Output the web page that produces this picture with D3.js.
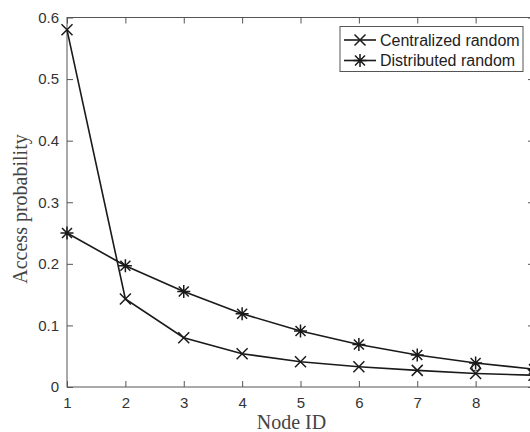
<!DOCTYPE html>
<html>
<head>
<meta charset="utf-8">
<script src="https://cdn.jsdelivr.net/npm/d3@7"></script>
<style>
body { margin: 0; background: #fff; overflow: hidden; }
.tick text { font-family: "Liberation Sans", Arial, sans-serif; font-size: 15px; fill: #333; }
</style>
</head>
<body>
<div id="chart"></div>
<script>
var nodes = [1, 2, 3, 4, 5, 6, 7, 8, 9];
var centralized = [0.58, 0.143, 0.080, 0.054, 0.041, 0.033, 0.027, 0.022, 0.019];
var distributed = [0.25, 0.197, 0.155, 0.119, 0.091, 0.069, 0.052, 0.039, 0.029];
var extraPoint = [{node: 8, value: 0.0325}];
var xTicks = [1, 2, 3, 4, 5, 6, 7, 8, 9];
var xTickLabels = [1, 2, 3, 4, 5, 6, 7, 8];  // 9 falls outside the cropped picture
var yTicks = [0, 0.1, 0.2, 0.3, 0.4, 0.5, 0.6];

var margin = {top: 17.5, right: -4, bottom: 45, left: 67};
var W = 530, H = 432;
var w = W - margin.left - margin.right;
var h = H - margin.top - margin.bottom;

var svg = d3.select("#chart")
  .append("svg")
  .attr("width", W)
  .attr("height", H)
  .append("g")
  .attr("transform", "translate(" + margin.left + "," + margin.top + ")");

var x = d3.scaleLinear().domain([1, 9]).range([0, w]);
var y = d3.scaleLinear().domain([0, 0.6]).range([h, 0]);

var axisColor = "#555";

// box
svg.append("rect")
  .attr("width", w).attr("height", h)
  .attr("fill", "none").attr("stroke", axisColor).attr("stroke-width", 1);

var xAxis = d3.axisBottom(x).tickValues(xTicks).tickSize(-6).tickPadding(10)
  .tickFormat(function(d) { return xTickLabels.indexOf(d) >= 0 ? d : ""; });
var yAxis = d3.axisLeft(y).tickValues(yTicks).tickSize(-6).tickPadding(8)
  .tickFormat(function(d) { return d === 0 ? "0" : d3.format(".1f")(d); });

function styleAxis(g) {
  g.select(".domain").remove();
  g.selectAll(".tick line").attr("stroke", axisColor);
}

svg.append("g").attr("transform", "translate(0," + h + ")").call(xAxis).call(styleAxis);
svg.append("g").call(yAxis).call(styleAxis);
svg.append("g").call(d3.axisTop(x).tickValues(xTicks).tickSize(-6).tickFormat("")).call(styleAxis);
svg.append("g").attr("transform", "translate(" + w + ",0)")
  .call(d3.axisRight(y).tickValues(yTicks).tickSize(-6).tickFormat("")).call(styleAxis);

var lineColor = "#1a1a1a";
var line = d3.line().x(function(d) { return x(d[0]); }).y(function(d) { return y(d[1]); });

var series = [
  {name: "Centralized random", values: d3.zip(nodes, centralized), marker: "x"},
  {name: "Distributed random", values: d3.zip(nodes, distributed), marker: "star"}
];

function drawMarker(g, type, cx, cy) {
  var s = 5.5;
  var p = "M" + (cx - s) + "," + (cy - s) + "L" + (cx + s) + "," + (cy + s) +
          "M" + (cx - s) + "," + (cy + s) + "L" + (cx + s) + "," + (cy - s);
  if (type === "star") {
    var t = 6.5;
    p = "M" + (cx - 5) + "," + (cy - 5) + "L" + (cx + 5) + "," + (cy + 5) +
        "M" + (cx - 5) + "," + (cy + 5) + "L" + (cx + 5) + "," + (cy - 5) +
        "M" + cx + "," + (cy - t) + "L" + cx + "," + (cy + t) +
        "M" + (cx - t) + "," + cy + "L" + (cx + t) + "," + cy;
  }
  g.append("path").attr("d", p).attr("stroke", lineColor).attr("stroke-width", 1.5).attr("fill", "none");
}

series.forEach(function(s) {
  svg.append("path")
    .datum(s.values)
    .attr("d", line)
    .attr("fill", "none")
    .attr("stroke", lineColor)
    .attr("stroke-width", 1.6);
  var mg = svg.append("g");
  s.values.forEach(function(d) { drawMarker(mg, s.marker, x(d[0]), y(d[1])); });
});

svg.selectAll(".extra")
  .data(extraPoint)
  .enter()
  .append("circle")
  .attr("cx", function(d) { return x(d.node); })
  .attr("cy", function(d) { return y(d.value); })
  .attr("r", 4)
  .attr("fill", "none")
  .attr("stroke", lineColor)
  .attr("stroke-width", 1);

// legend
var lg = svg.append("g").attr("transform", "translate(" + (340 - margin.left) + "," + (26.5 - margin.top) + ")");
lg.append("rect").attr("width", 183).attr("height", 45)
  .attr("fill", "#fff").attr("stroke", axisColor).attr("stroke-width", 1);
series.forEach(function(s, i) {
  var cy = 13.5 + i * 20.5;
  lg.append("line").attr("x1", 4).attr("x2", 36).attr("y1", cy).attr("y2", cy)
    .attr("stroke", lineColor).attr("stroke-width", 1.6);
  drawMarker(lg, s.marker, 20, cy);
  lg.append("text").attr("x", 40).attr("y", cy + 5.5)
    .style("font-family", "Liberation Sans, Arial, sans-serif")
    .style("font-size", "16px").attr("fill", "#222")
    .text(s.name);
});

// axis labels
svg.append("text")
  .attr("x", x(5) - 9)
  .attr("y", h + 42)
  .style("text-anchor", "middle")
  .style("font-family", "Liberation Serif, Times New Roman, serif")
  .style("font-size", "20px").attr("fill", "#444")
  .text("Node ID");

svg.append("text")
  .attr("transform", "rotate(-90)")
  .attr("x", -(209 - margin.top))
  .attr("y", -40)
  .style("text-anchor", "middle")
  .style("font-family", "Liberation Serif, Times New Roman, serif")
  .style("font-size", "20px").attr("fill", "#444")
  .text("Access probability");
</script>
</body>
</html>
